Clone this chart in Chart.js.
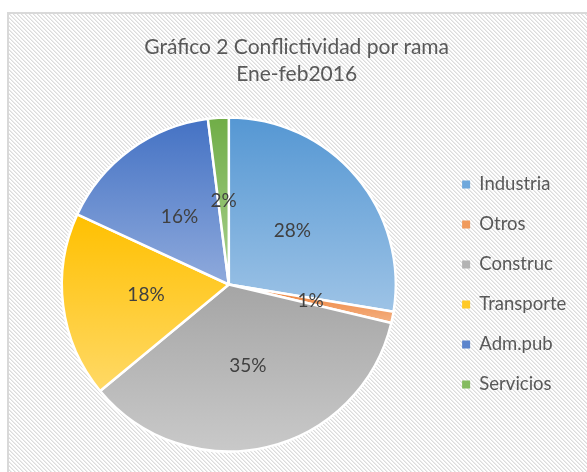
<!DOCTYPE html>
<html>
<head>
<meta charset="utf-8">
<script src="https://cdn.jsdelivr.net/npm/chart.js@4.4.1/dist/chart.umd.min.js"></script>
<style>
  html, body { margin: 0; padding: 0; background: #fff; overflow: hidden; width: 587px; height: 472px; }
  .frame {
    position: absolute; left: 7px; top: 12px; width: 620px; height: 480px;
    border: 2px solid #d9d9d9;
    background: #f3f3f3;
  }
  .wrap { position: absolute; left: 0; top: 0; width: 588px; height: 458px; }
</style>
</head>
<body>
<div class="frame">
  <div class="wrap"><canvas id="pie"></canvas></div>
</div>
<script>
const categories = ['Industria', 'Otros', 'Construc', 'Transporte', 'Adm.pub', 'Servicios'];
const shares = [27.6, 1.1, 35.3, 17.9, 16.1, 2.0];
const topColors = ['#5597d3', '#ed7d31', '#a5a5a5', '#ffc000', '#4472c4', '#70ad47'];
const bottomColors = ['#9dc3e6', '#f4b183', '#c9c9c9', '#ffd966', '#8faadc', '#a9d18e'];
const legendColors = ['#6fa8dc', '#f09a5c', '#b3b3b3', '#ffc926', '#5b84cc', '#84bb60'];
const titleLines = ['Gráfico 2 Conflictividad por rama', 'Ene-feb2016'];

const FONT = 'Lato, "Open Sans", sans-serif';

// fine diagonal hatch like the Excel chart area fill
const makeHatch = () => {
    const c = document.createElement('canvas');
    c.width = 4; c.height = 4;
    const g = c.getContext('2d');
    g.fillStyle = '#ffffff';
    g.fillRect(0, 0, 4, 4);
    for (let y = 0; y < 4; y++) {
        for (let x = 0; x < 4; x++) {
            const d = ((x - y) % 4 + 4) % 4;
            if (d === 0) { g.fillStyle = '#dcdcdc'; g.fillRect(x, y, 1, 1); }
            if (d === 1) { g.fillStyle = '#ededed'; g.fillRect(x, y, 1, 1); }
        }
    }
    return c.toDataURL();
};
document.querySelector('.frame').style.background = `url(${makeHatch()})`;

// Excel style fill: each slice gets its own top-to-bottom gradient
const sliceGradient = {
    id: 'sliceGradient',
    beforeDatasetsDraw(chart) {
        const ctx = chart.ctx;
        const meta = chart.getDatasetMeta(0);
        meta.data.forEach((arc, i) => {
            const { x, y, startAngle, endAngle, outerRadius } = arc.getProps(['x', 'y', 'startAngle', 'endAngle', 'outerRadius']);
            const ys = [y, y + Math.sin(startAngle) * outerRadius, y + Math.sin(endAngle) * outerRadius];
            const hits = (a) => {
                for (let k = -2; k <= 2; k++) {
                    const t = a + k * 2 * Math.PI;
                    if (t >= startAngle && t <= endAngle) return true;
                }
                return false;
            };
            if (hits(-Math.PI / 2)) ys.push(y - outerRadius);
            if (hits(Math.PI / 2)) ys.push(y + outerRadius);
            const y0 = Math.min(...ys), y1 = Math.max(...ys);
            const g = ctx.createLinearGradient(0, y0, 0, y1 > y0 ? y1 : y0 + 1);
            g.addColorStop(0, topColors[i]);
            g.addColorStop(1, bottomColors[i]);
            if (Object.isFrozen(arc.options)) arc.options = Object.assign({}, arc.options);
            arc.options.backgroundColor = g;
        });
    }
};

// percentage labels in the middle of each slice
const sliceLabels = {
    id: 'sliceLabels',
    afterDatasetsDraw(chart) {
        const ctx = chart.ctx;
        const data = chart.data.datasets[0].data;
        const total = data.reduce((a, b) => a + b, 0);
        ctx.save();
        ctx.font = '19px ' + FONT;
        ctx.fillStyle = '#404040';
        ctx.textAlign = 'center';
        ctx.textBaseline = 'middle';
        chart.getDatasetMeta(0).data.forEach((arc, i) => {
            const p = arc.tooltipPosition();
            ctx.fillText(Math.round(data[i] / total * 100) + '%', p.x, p.y);
        });
        ctx.restore();
    }
};

new Chart(document.getElementById('pie'), {
    type: 'pie',
    data: {
        labels: categories,
        datasets: [{
            data: shares,
            backgroundColor: topColors,
            borderColor: '#ffffff',
            borderWidth: 2.5,
            hoverOffset: 0
        }]
    },
    options: {
        responsive: true,
        maintainAspectRatio: false,
        animation: false,
        radius: 167,
        layout: { padding: { top: 0, left: 8, right: 20.7, bottom: 19 } },
        plugins: {
            title: {
                display: true,
                text: titleLines,
                color: '#595959',
                font: { family: FONT, size: 21, weight: 'normal', lineHeight: 1.286 },
                padding: { top: 19.5, bottom: 28.5 }
            },
            legend: {
                position: 'right',
                fullSize: false,
                labels: {
                    color: '#595959',
                    font: { family: FONT, size: 18.5 },
                    boxWidth: 8,
                    boxHeight: 8,
                    padding: 21.5,
                    generateLabels: (chart) => chart.data.labels.map((l, i) => ({
                        text: l, fillStyle: legendColors[i], strokeStyle: legendColors[i],
                        lineWidth: 0, hidden: false, index: i, fontColor: '#595959'
                    }))
                }
            },
            tooltip: { enabled: false }
        }
    },
    plugins: [sliceGradient, sliceLabels]
});
</script>
</body>
</html>
